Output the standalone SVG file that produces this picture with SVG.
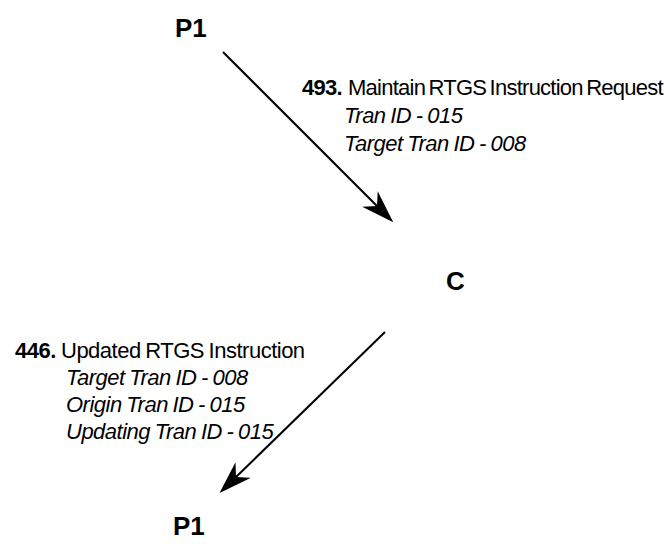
<svg xmlns="http://www.w3.org/2000/svg" width="668" height="548" viewBox="0 0 668 548">
  <style>
    .node { font-family: "Liberation Sans", Arial, sans-serif; font-weight: bold; font-size: 26px; fill: #000; }
    .msg { font-family: "Liberation Sans", Arial, sans-serif; font-size: 22px; fill: #000; letter-spacing: -0.5px; word-spacing: -1px; }
    .tight { letter-spacing: -0.75px; word-spacing: -2px; }
    .num { font-weight: bold; }
    .it { font-style: italic; }
    .conn { stroke: #000; stroke-width: 2; fill: none; marker-end: url(#arrow); }
  </style>
  <defs>
    <marker id="arrow" markerUnits="userSpaceOnUse" viewBox="0 -11 33 22" markerWidth="33" markerHeight="22" refX="10" refY="0" orient="auto">
      <path d="M0,-11 L33,0 L0,11 L10,0 Z" fill="#000"/>
    </marker>
  </defs>
  <rect width="668" height="548" fill="#fff"/>

  <g id="p1-top"><text class="node" x="175" y="37">P1</text></g>
  <g id="c"><text class="node" x="446" y="290">C</text></g>
  <g id="p1-bottom"><text class="node" x="173" y="535">P1</text></g>

  <g id="connectors">
    <line class="conn" x1="223" y1="52" x2="377" y2="206"/>
    <line class="conn" x1="385" y1="332" x2="236" y2="477"/>
  </g>

  <g id="label-493">
    <text class="msg" y="95"><tspan class="num tight" x="302">493.</tspan><tspan class="tight" x="348">Maintain RTGS Instruction Request</tspan></text>
    <text class="msg it" x="344" y="123">Tran ID - 015</text>
    <text class="msg it" x="344" y="151">Target Tran ID - 008</text>
  </g>

  <g id="label-446">
    <text class="msg" y="358"><tspan class="num" x="15">446.</tspan><tspan x="61">Updated RTGS Instruction</tspan></text>
    <text class="msg it" x="66" y="385">Target Tran ID - 008</text>
    <text class="msg it" x="66" y="412">Origin Tran ID - 015</text>
    <text class="msg it" x="66" y="439">Updating Tran ID - 015</text>
  </g>
</svg>
